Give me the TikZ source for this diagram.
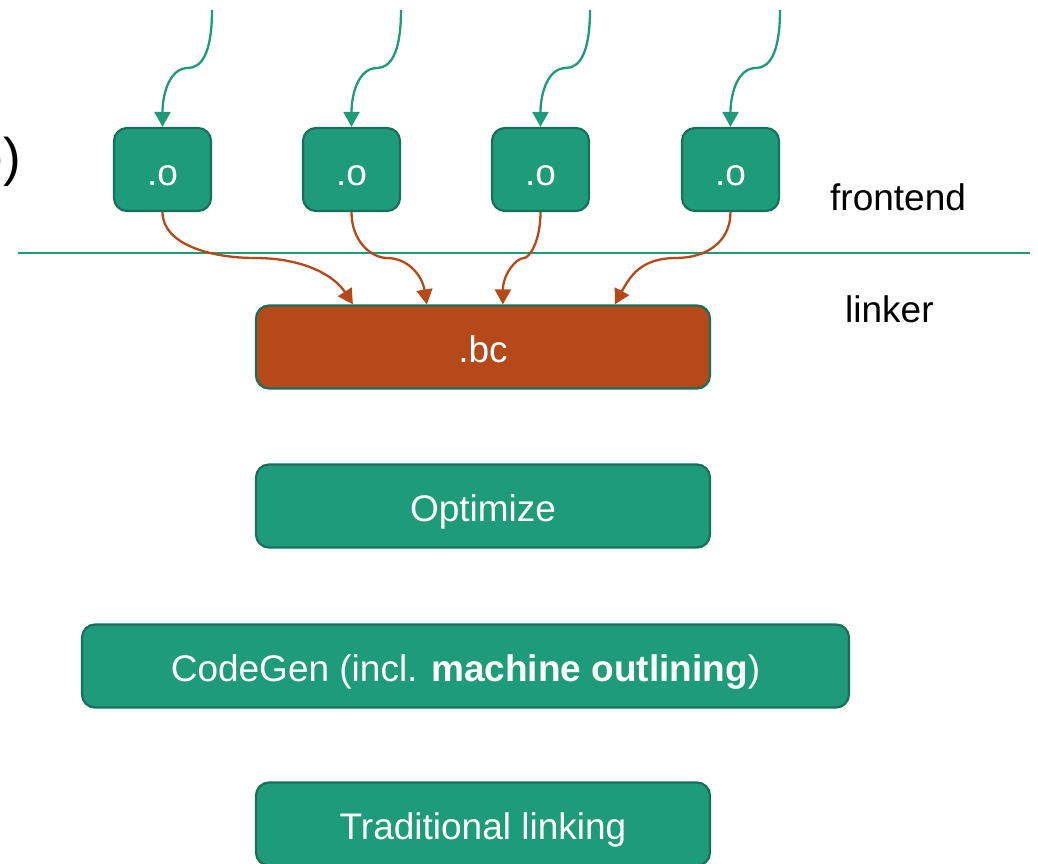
\documentclass[tikz,border=0pt]{standalone}
\usepackage{fontspec}
\setmainfont{Liberation Sans}
\usetikzlibrary{arrows.meta,calc}
\definecolor{gfill}{HTML}{1E9B78}
\definecolor{gdraw}{HTML}{18705A}
\definecolor{ofill}{HTML}{B5491A}
\definecolor{garr}{HTML}{1E9B78}
\definecolor{oarr}{HTML}{B5491A}
\begin{document}
\begin{tikzpicture}[x=1pt,y=-1pt,
  box/.style={draw=gdraw, line width=2.2pt, fill=gfill, rounded corners=13pt, text=white, inner sep=0pt,
    font=\fontsize{37}{44}\selectfont, text height=35pt, text depth=4pt, minimum height=83pt},
  obox/.style={box, minimum width=97pt},
  wide/.style={box, minimum width=454pt},
  garrow/.style={draw=garr, line width=2.3pt, -{Triangle[length=15pt,width=16pt]}},
  oarrow/.style={draw=oarr, line width=2.3pt, -{Triangle[length=15pt,width=16pt]}},
  lbl/.style={font=\fontsize{37}{44}\selectfont, inner sep=0pt, anchor=base west}]
\useasboundingbox (0,0) rectangle (1038,864);

% divider
\coordinate (L1) at (18,253);
\coordinate (L2) at (1030,253);
\draw[draw=garr, line width=2.5pt] (L1) -- (L2);

% object files with incoming arrows
\foreach \i/\cx in {1/162.5,2/351.5,3/540.5,4/730.5} {
  \node[obox] (o\i) at (\cx,169.5) {.o};
  \coordinate (s\i) at (\cx+49.5,10);
  \draw[garrow] (s\i) .. controls +(0,42) and +(14,0) .. (\cx+25.5,68)
                      .. controls +(-18,0) and +(0,-34) .. (o\i.north);
}

% bitcode box
\node[box, fill=ofill] [minimum width=454pt] (bc) at (483,347) {.bc};

\draw[oarrow] (o1.south) .. controls +(0,32) and +(-45,0) .. (255,258)
              .. controls +(50,0) and +(-18,-28) .. ($(bc.north west)+(98,0)$);
\draw[oarrow] (o2.south) .. controls +(0,30) and +(-15,0) .. (387,258)
              .. controls +(20,0) and +(-5,-30) .. ($(bc.north west)+(172,0)$);
\draw[oarrow] (o3.south) .. controls +(0,30) and +(5,0) .. (524,258)
              .. controls +(-8,0) and +(0,-30) .. ($(bc.north west)+(248,0)$);
\draw[oarrow] (o4.south) .. controls +(0,30) and +(30,0) .. (676,258)
              .. controls +(-35,0) and +(15,-28) .. ($(bc.north west)+(360,0)$);

% labels
\node[lbl] (fe) at (830,210) {frontend};
\node[lbl] (lk) at (845,322) {linker};
\node[font=\fontsize{53}{60}\selectfont, inner sep=0pt, anchor=base east] (cut) at (21,175) {o)};

% pipeline boxes
\node[wide] (opt) at (483,506) {Optimize};
\node[box, minimum width=767pt] (cg) at (465.5,666) {CodeGen (incl. \textbf{machine outlining})};
\node[wide] (tl) at (483,824) {Traditional linking};
\end{tikzpicture}
\end{document}
